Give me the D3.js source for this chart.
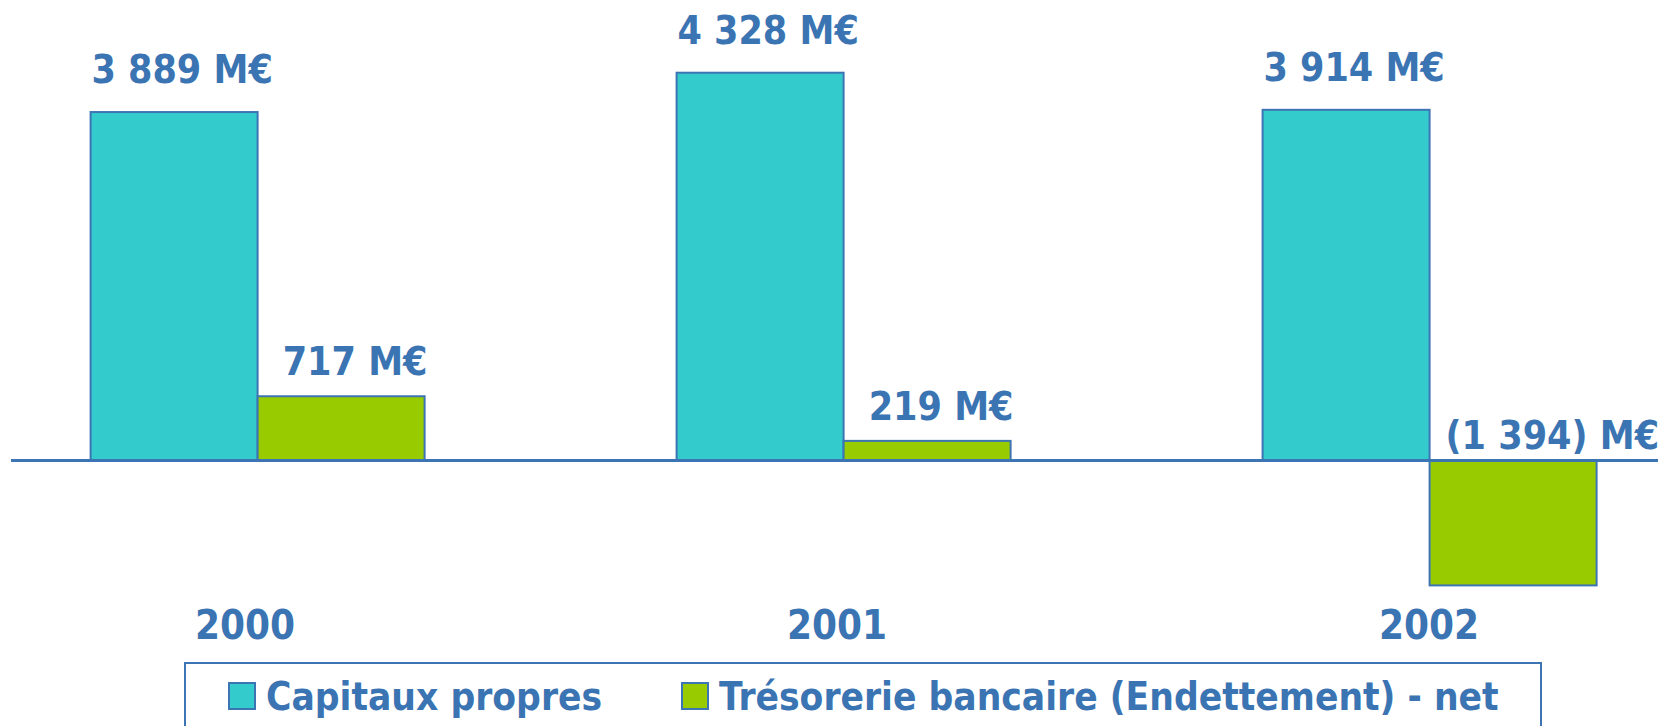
<!DOCTYPE html>
<html>
<head>
<meta charset="utf-8">
<script src="https://cdn.jsdelivr.net/npm/d3@7"></script>
<style>
  body { margin: 0; background: #fff; }
  svg text { font-family: "DejaVu Sans", sans-serif; font-stretch: condensed; font-weight: bold; fill: #3b74b2; }
</style>
</head>
<body>
<svg id="chart" width="1658" height="726"></svg>
<script>
let years = ['2000', '2001', '2002'];
let series = ['Capitaux propres', 'Trésorerie bancaire (Endettement) - net'];
let capitaux = [3889, 4328, 3914];
let tresorerie = [717, 219, -1394];
let valueLabels = [
  ['3 889 M€', '4 328 M€', '3 914 M€'],
  ['717 M€', '219 M€', '(1 394) M€']
];
let colors = ['#33cbcb', '#99cc00'];

let chart = {};

chart.init = function(){
  let svg = d3.select('#chart');
  this.svg = svg;

  svg.sx = d3.scaleBand()
  .domain(years)
  .range([-26.6, 1713.8])
  .paddingInner(0.43)
  .paddingOuter(0.2);

  svg.sub = d3.scaleBand()
  .domain([0, 1])
  .range([0, svg.sx.bandwidth()]);

  svg.sy = d3.scaleLinear()
  .domain([-1500, 4500])
  .range([594.9, 57.3]);

  // year labels sit on their own slightly wider spacing
  svg.sl = d3.scalePoint()
  .domain(years)
  .range([245, 1429]);

  this.drawBars();
  this.drawLabels();
  this.drawLegend();
};

chart.drawBars = function(){
  let svg = this.svg;
  let rows = [];
  [capitaux, tresorerie].forEach((vals, s) => {
    vals.forEach((v, i) => rows.push({year: years[i], s: s, v: v, label: valueLabels[s][i]}));
  });
  this.rows = rows;

  svg.selectAll('.bar')
  .data(rows)
  .enter()
  .append('rect')
  .attr('class', 'bar')
  .attr('x', d => svg.sx(d.year) + svg.sub(d.s))
  .attr('y', d => svg.sy(Math.max(0, d.v)))
  .attr('width', svg.sub.bandwidth())
  .attr('height', d => Math.abs(svg.sy(d.v) - svg.sy(0)))
  .attr('fill', d => colors[d.s])
  .attr('stroke', '#3d74b4')
  .attr('stroke-width', 2);

  svg.append('line')
  .attr('x1', 11)
  .attr('x2', 1658)
  .attr('y1', svg.sy(0))
  .attr('y2', svg.sy(0))
  .attr('stroke', '#3d74b4')
  .attr('stroke-width', 3);
};

chart.drawLabels = function(){
  let svg = this.svg;
  // cyan labels float a little higher and closer to centre than the green ones
  let dx = [8, 14], dy = [29, 21];
  svg.selectAll('.vlabel')
  .data(this.rows)
  .enter()
  .append('text')
  .attr('class', 'vlabel')
  .attr('x', d => {
    let x0 = svg.sx(d.year) + svg.sub(d.s);
    return d.v < 0 ? x0 + 16 : x0 + svg.sub.bandwidth()/2 + dx[d.s];
  })
  .attr('y', d => d.v < 0 ? svg.sy(0) - 12 : svg.sy(d.v) - dy[d.s])
  .attr('text-anchor', d => d.v < 0 ? 'start' : 'middle')
  .style('font-size', '39px')
  .text(d => d.label);

  svg.selectAll('.year')
  .data(years)
  .enter()
  .append('text')
  .attr('class', 'year')
  .attr('x', d => svg.sl(d))
  .attr('y', 639)
  .attr('text-anchor', 'middle')
  .style('font-size', '40px')
  .text(d => d);
};

chart.drawLegend = function(){
  let svg = this.svg;
  svg.append('rect')
  .attr('x', 185)
  .attr('y', 663)
  .attr('width', 1356)
  .attr('height', 80)
  .attr('fill', 'none')
  .attr('stroke', '#3d74b4')
  .attr('stroke-width', 2);

  let itemX = [229, 682];
  let items = svg.selectAll('.legend')
  .data(series)
  .enter()
  .append('g')
  .attr('class', 'legend')
  .attr('transform', (_, i) => `translate(${itemX[i]},683)`);

  items.append('rect')
  .attr('width', 26)
  .attr('height', 26)
  .attr('fill', (_, i) => colors[i])
  .attr('stroke', '#3d74b4')
  .attr('stroke-width', 2);

  items.append('text')
  .attr('x', 37)
  .attr('y', 27)
  .style('font-size', '38.5px')
  .text(d => d);
};

chart.init();
</script>
</body>
</html>
